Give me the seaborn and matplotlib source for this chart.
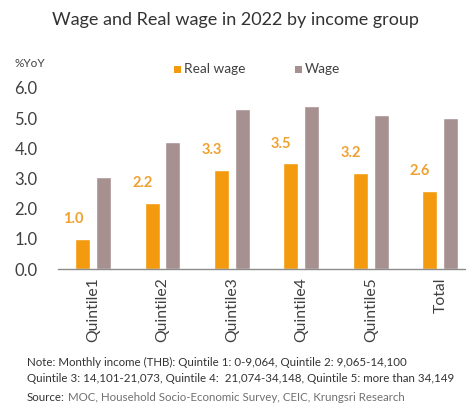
import matplotlib
matplotlib.use("Agg")
import matplotlib.pyplot as plt
import seaborn as sns
import pandas as pd
from matplotlib.patches import Rectangle

categories = ["Quintile1", "Quintile2", "Quintile3", "Quintile4", "Quintile5", "Total"]
real_wage = [1.0, 2.2, 3.3, 3.5, 3.2, 2.6]
wage = [3.05, 4.2, 5.3, 5.4, 5.1, 5.0]
series_names = ["Real wage", "Wage"]
y_ticks = [0.0, 1.0, 2.0, 3.0, 4.0, 5.0, 6.0]

sns.set_theme(style="white")
plt.rcParams['font.family'] = ['Lato', 'DejaVu Sans']

df = pd.DataFrame({
    "cat": categories * 2,
    "val": real_wage + wage,
    "series": [series_names[0]] * len(categories) + [series_names[1]] * len(categories),
})

ORANGE = "#F39A0E"
MAUVE = "#A69190"
palette = {series_names[0]: ORANGE, series_names[1]: MAUVE}

fig = plt.figure(figsize=(4.66, 4.11), dpi=100)
ax = fig.add_axes([0.125, 0.345, 0.875, 0.441])
sns.barplot(data=df, x="cat", y="val", hue="series", palette=palette,
            width=0.6, gap=0.28, ax=ax, legend=False, saturation=1)

ax.set_ylim(0, 6.0)
ax.set_xlim(-0.5, 5.37)
ax.set_yticks(y_ticks)
ax.set_yticklabels([f"{v:.1f}" for v in y_ticks], fontsize=12, color="#404040")
ax.tick_params(axis="y", length=0, pad=15)
ax.tick_params(axis="x", length=0, pad=6)
plt.setp(ax.get_xticklabels(), rotation=90, fontsize=11.3, color="#404040")
ax.set_xlabel("")
ax.set_ylabel("")
for s in ["top", "right", "left"]:
    ax.spines[s].set_visible(False)
ax.spines["bottom"].set_color("#8C8C8C")
ax.spines["bottom"].set_linewidth(1.0)

# value labels on real wage bars (slightly left of bar centre, as in reference)
for patch, v in zip(ax.containers[0], real_wage):
    cx = patch.get_x() + patch.get_width() / 2
    ax.annotate(f"{v:.1f}", xy=(cx, patch.get_height()), xytext=(-7, 9),
                textcoords="offset points", ha="center", va="bottom",
                color="#F0A030", fontsize=10.5, fontweight="bold")

fig.text(0.505, 0.952, "Wage and Real wage in 2022 by income group", ha="center", va="center",
         fontsize=13, color="#333333")
fig.text(0.032, 0.846, "%YoY", ha="left", va="center", fontsize=8.5, color="#404040")

# legend
fig.patches.append(Rectangle((0.374, 0.823), 0.014, 0.016, transform=fig.transFigure,
                             facecolor=ORANGE, edgecolor="none"))
fig.text(0.395, 0.831, series_names[0], ha="left", va="center", fontsize=9.8, color="#404040")
fig.patches.append(Rectangle((0.633, 0.823), 0.014, 0.016, transform=fig.transFigure,
                             facecolor=MAUVE, edgecolor="none"))
fig.text(0.654, 0.831, series_names[1], ha="left", va="center", fontsize=9.8, color="#404040")

fig.text(0.058, 0.118, "Note: Monthly income (THB): Quintile 1: 0-9,064, Quintile 2: 9,065-14,100",
         ha="left", va="center", fontsize=8.3, color="#333333")
fig.text(0.058, 0.080, "Quintile 3: 14,101-21,073, Quintile 4:  21,074-34,148, Quintile 5: more than 34,149",
         ha="left", va="center", fontsize=8.3, color="#333333")
t = fig.text(0.058, 0.032, "Source:", ha="left", va="center", fontsize=8.3, color="#333333")
fig.canvas.draw()
bb = t.get_window_extent()
x1 = bb.x1 / fig.bbox.width
fig.text(x1 + 0.006, 0.032, "MOC, Household Socio-Economic Survey, CEIC, Krungsri Research",
         ha="left", va="center", fontsize=8.3, color="#707070")

fig.savefig("out.png", dpi=100, facecolor="white")
